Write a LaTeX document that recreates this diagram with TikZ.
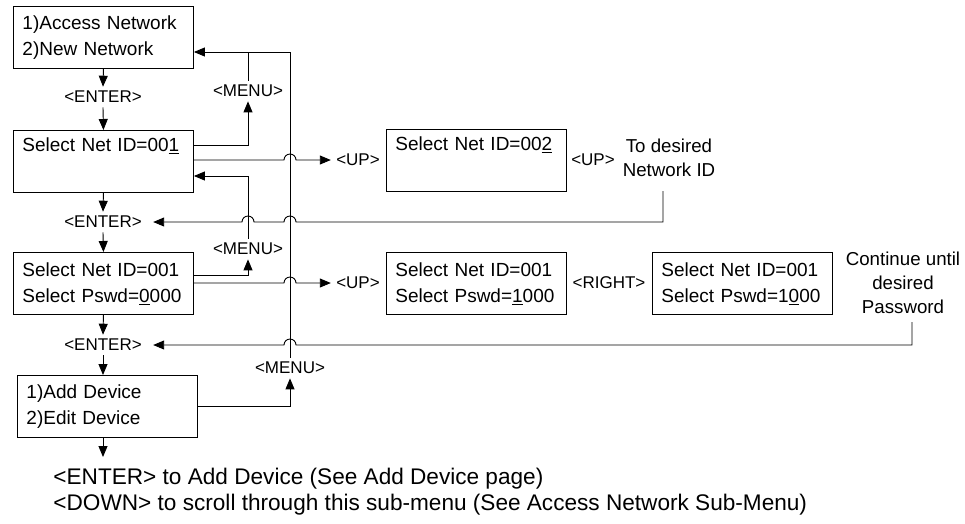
\documentclass[tikz,border=0pt]{standalone}
\usepackage{fontspec}
\setmainfont{Liberation Sans}
\usetikzlibrary{arrows.meta}
\newcommand\bxf{\fontsize{19}{26}\selectfont}
\newcommand\lbf{\fontsize{17}{20}\selectfont}
\newcommand\ntf{\fontsize{18.7}{24}\selectfont}
\newcommand\btf{\fontsize{22.6}{26}\selectfont}
\begin{document}
\begin{tikzpicture}[x=1pt,y=-1pt,line width=0.9pt,
  box/.style={draw,anchor=north west,minimum height=62pt,text width=162pt,inner xsep=9pt,inner ysep=0pt,align=left,font=\bxf},
  lbl/.style={inner xsep=2pt,inner ysep=4pt,font=\lbf},
  note/.style={align=center,inner sep=0pt,font=\ntf},
  btxt/.style={anchor=base west,inner sep=0pt,font=\btf},
  arr/.style={-{Triangle[length=11pt,width=9pt]}},
]
\useasboundingbox (0,0) rectangle (965,523);

% boxes
\node[box] (b1) at (13,6) {1)Access Network\\2)New Network};
\node[box] (b2) at (13,130) {Select Net ID=00\underline{1}\\\strut};
\node[box] (b4) at (13,252) {Select Net ID=001\\Select Pswd=\underline{0}000};
\node[box] (b7) at (17,375) {1)Add Device\\2)Edit Device};
\node[box] (b3) at (386,129) {Select Net ID=00\underline{2}\\\strut};
\node[box] (b5) at (386,252) {Select Net ID=001\\Select Pswd=\underline{1}000};
\node[box] (b6) at (652,252) {Select Net ID=001\\Select Pswd=1\underline{0}00};

% labels
\node[lbl] (e1) at (103,97) {<ENTER>};
\node[lbl] (e2) at (103,222) {<ENTER>};
\node[lbl] (e3) at (103,345) {<ENTER>};
\node[lbl] (m1) at (248,91) {<MENU>};
\node[lbl] (m2) at (248,249) {<MENU>};
\node[lbl] (m3) at (290,368) {<MENU>};
\node[lbl] (u1) at (358,160) {<UP>};
\node[lbl] (u2) at (593,160) {<UP>};
\node[lbl] (u3) at (358,283) {<UP>};
\node[lbl] (r1) at (609,283) {<RIGHT>};
\node[note] (n1t) at (669,158) {To desired\\Network ID};
\node[note] (n2t) at (903,283) {Continue until\\desired\\Password};
\node[btxt] (bt1) at (53,484) {<ENTER> to Add Device (See Add Device page)};
\node[btxt] (bt2) at (53,510) {<DOWN> to scroll through this sub-menu (See Access Network Sub-Menu)};

% helper coordinates
\coordinate (j1) at (290,52);
\coordinate (n1) at (663,191);
\coordinate (n2) at (912,322);
\coordinate (endd) at (103,457);

% vertical flow
\draw[arr] (b1.south) -- (e1.north);
\draw[arr] (e1.south) -- (b2.north);
\draw[arr] (b2.south) -- (e2.north);
\draw[arr] (e2.south) -- (b4.north);
\draw[arr] (b4.south) -- (e3.north);
\draw[arr] (e3.south) -- (e3.south |- b7.north);
\draw[arr] (endd |- b7.south) -- (endd);

% menu returns
\draw[arr] (m3.north) -- (j1) -- (b1.east |- j1);
\draw (m1.north) -- (m1.north |- j1);
\draw[arr] ([yshift=-15pt]b2.north east) -| (m1.south);
\draw[arr] (m2.north) |- ([yshift=-46pt]b2.north east);
\draw[arr] ([yshift=-23pt]b4.north east) -| (m2.south);
\draw[arr] ([yshift=-31pt]b7.north east) -| (m3.south);

% UP branches with hops
\draw[arr,shorten >=3pt] ([yshift=-30pt]b2.north east) -- (284,160)
  arc[start angle=180,end angle=0,radius=6pt] -- (u1.west);
\draw[arr,shorten >=3pt] ([yshift=-31pt]b4.north east) -- (284,283)
  arc[start angle=180,end angle=0,radius=6pt] -- (u3.west);

% returns from notes
\draw[arr,shorten >=9pt] (n1) |- (296,222)
  arc[start angle=0,end angle=180,radius=6pt] -- (254,222)
  arc[start angle=0,end angle=180,radius=6pt] -- (e2.east);
\draw[arr,shorten >=9pt] (n2) |- (296,345)
  arc[start angle=0,end angle=180,radius=6pt] -- (e3.east);
\end{tikzpicture}
\end{document}
